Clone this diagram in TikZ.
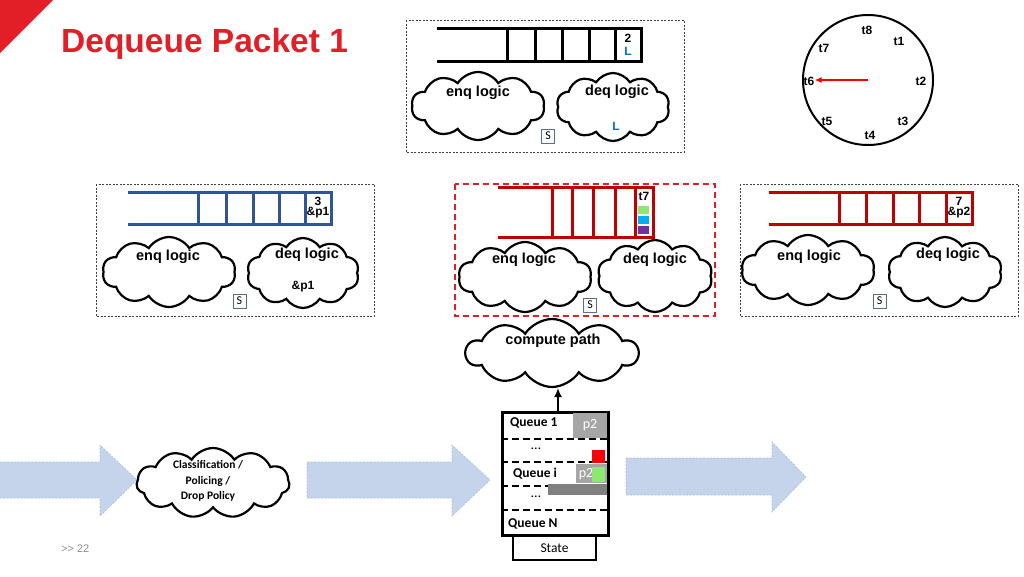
\documentclass[tikz,border=0pt]{standalone}
\usepackage{fontspec}
\setmainfont{Liberation Sans}
\newfontfamily\calib{Carlito}
\usetikzlibrary{shapes.symbols,arrows.meta}
\definecolor{titlered}{RGB}{226,30,38}
\definecolor{qblue}{RGB}{47,85,151}
\definecolor{qred}{RGB}{192,0,0}
\definecolor{lblue}{RGB}{0,112,192}
\definecolor{arrfill}{RGB}{197,212,234}
\definecolor{arrline}{RGB}{170,190,220}
\definecolor{sline}{RGB}{90,110,140}
\definecolor{pgreen}{RGB}{140,232,110}
\definecolor{pcyan}{RGB}{0,176,240}
\definecolor{ppurple}{RGB}{112,48,160}
\tikzset{
  dbox/.style={draw=black!75, line width=0.8pt, dash pattern=on 2pt off 1.5pt},
  qline/.style={line width=3pt},
  cl/.style={shape=cloud, draw, line width=2.2pt, cloud puffs=10, cloud puff arc=115, cloud ignores aspect, inner sep=0pt},
  lbl/.style={font=\bfseries\fontsize{14.5}{16}\selectfont, inner sep=0pt},
  cell/.style={font=\bfseries\fontsize{12}{13}\selectfont, inner sep=0pt},
  sbox/.style={draw=sline, line width=0.8pt, minimum width=13pt, minimum height=14pt, inner sep=0pt, font=\calib\fontsize{12}{13}\selectfont},
  clk/.style={font=\bfseries\fontsize{12}{13}\selectfont, inner sep=0pt},
  qtxt/.style={font=\calib\bfseries\fontsize{13.5}{15}\selectfont, anchor=west, inner sep=0pt},
  dots/.style={font=\calib\fontsize{14}{15}\selectfont, inner sep=0pt},
  bigarrow/.style={fill=arrfill, draw=arrline, line width=0.6pt, dash pattern=on 2pt off 1.5pt},
  sep/.style={line width=2.5pt, dash pattern=on 7pt off 4pt},
}
\begin{document}
\begin{tikzpicture}[x=1pt,y=-1pt]
\useasboundingbox (0,0) rectangle (1024,576);
% corner triangle and title
\fill[titlered] (0,0) -- (53,0) -- (0,53) -- cycle;
\node[anchor=base west, inner sep=0pt, text=titlered, font=\bfseries\fontsize{33.5}{36}\selectfont] (title) at (61,52) {Dequeue Packet 1};

% ===== top box =====
\draw[dbox] (406,20) rectangle (684,152);
\draw[qline] (437,28) -- (641,28) -- (641,61) -- (437,61);
\foreach \x in {507,535,562,589,615} \draw[qline] (\x,28) -- (\x,61);
\node[cell] (t2) at (628,38) {2};
\node[cell, text=lblue] (tL) at (628,51) {L};
\node[cl, minimum width=133pt, minimum height=68pt] (tenq) at (478,106) {};
\node[cl, minimum width=113pt, minimum height=68pt] (tdeq) at (613,107) {};
\node[lbl] (tenqt) at (478,93) {enq logic};
\node[lbl] (tdeqt) at (617,92) {deq logic};
\node[cell, text=lblue] (tdL) at (616,126) {L};
\node[sbox] (tS) at (548,136) {S};

% ===== clock =====
\node[circle, draw, line width=2pt, minimum size=130pt, inner sep=0pt] (clock) at (868,80) {};
\node[clk] (c8) at (867,30) {t8};
\node[clk] (c1) at (899,41) {t1};
\node[clk] (c2) at (921,81) {t2};
\node[clk] (c3) at (903,121) {t3};
\node[clk] (c4) at (870,135) {t4};
\node[clk] (c5) at (827,121) {t5};
\node[clk] (c6) at (809,81) {t6};
\node[clk] (c7) at (824,48) {t7};
\draw[red, line width=2pt, -{Latex[length=7pt,width=6pt]}] (clock.center) -- (c6.east |- clock.center);

% ===== left box =====
\draw[dbox] (96,184) rectangle (374,316);
\draw[qline, qblue] (128,192) -- (331,192) -- (331,224) -- (128,224);
\foreach \x in {198,226,253,279,305} \draw[qline, qblue] (\x,192) -- (\x,224);
\node[cell] (l3) at (318,201) {3};
\node[cell] (lp1) at (318,213) {\&p1};
\node[cl, minimum width=133pt, minimum height=70pt] (lenq) at (169,272) {};
\node[cl, minimum width=112pt, minimum height=70pt] (ldeq) at (303,273) {};
\node[lbl] (lenqt) at (168,257) {enq logic};
\node[lbl] (ldeqt) at (307,255) {deq logic};
\node[cell] (ldp1) at (303,287) {\&p1};
\node[sbox] (lS) at (239.5,301) {S};

% ===== middle box =====
\draw[titlered, line width=2pt, dash pattern=on 6pt off 4pt] (455,184) rectangle (715,316);
\draw[qline, qred] (498,187) -- (653,187) -- (653,237) -- (498,237);
\foreach \x in {552,572,593,615,635} \draw[qline, qred] (\x,187) -- (\x,237);
\node[cell] (mt7) at (644,196) {t7};
\fill[pgreen] (638,206) rectangle (649,214);
\fill[pcyan] (638,216) rectangle (649,224);
\fill[ppurple] (638,226) rectangle (649,234);
\node[cl, minimum width=133pt, minimum height=70pt] (menq) at (525,277) {};
\node[cl, minimum width=115pt, minimum height=72pt] (mdeq) at (655,276) {};
\node[lbl] (menqt) at (524,260) {enq logic};
\node[lbl] (mdeqt) at (655,260) {deq logic};
\node[sbox] (mS) at (590,305) {S};

% ===== right box =====
\draw[dbox] (740,184) rectangle (1018,316);
\draw[qline, qred] (769,192) -- (972,192) -- (972,224) -- (769,224);
\foreach \x in {839,866,893,919,946} \draw[qline, qred] (\x,192) -- (\x,224);
\node[cell] (r7) at (959,201) {7};
\node[cell] (rp2) at (959,213) {\&p2};
\node[cl, minimum width=133pt, minimum height=70pt] (renq) at (808,270) {};
\node[cl, minimum width=114pt, minimum height=70pt] (rdeq) at (945,272) {};
\node[lbl] (renqt) at (809,257) {enq logic};
\node[lbl] (rdeqt) at (948,255) {deq logic};
\node[sbox] (rS) at (879.5,301) {S};

% ===== compute path =====
\node[cl, minimum width=172pt, minimum height=68pt] (cp) at (552,353) {};
\node[lbl] (cpt) at (553,341) {compute path};

% ===== queue stack =====
\node[draw, line width=3pt, minimum width=106pt, minimum height=123pt, inner sep=0pt] (stack) at (555,473.5) {};
\node[draw, line width=2pt, minimum width=83pt, minimum height=24pt, inner sep=0pt, anchor=north, font=\calib\fontsize{13.5}{15}\selectfont] (state) at (554.5,535) {State};
\coordinate (cpin) at (558,388);
\draw[line width=2pt, -{Latex[length=9pt,width=8pt]}] (stack.north -| cpin) -- (cpin);
\foreach \y in {439,462,486,510} \draw[sep] (stack.west |- 0,\y) -- (stack.east |- 0,\y);
\fill[black!35] (573,413) rectangle (607,438);
\node[font=\calib\fontsize{14}{15}\selectfont, text=white, inner sep=0pt] (p2) at (590,425) {p2};
\fill[red] (592,450) rectangle (605,463);
\fill[black!35] (576,464) rectangle (607,483);
\node[font=\calib\fontsize{14}{15}\selectfont, text=white, inner sep=0pt] (pi) at (586,474) {p2};
\fill[pgreen] (592,467) rectangle (605,482);
\fill[black!50] (548,484) rectangle (607,495);
\node[qtxt] (q1) at (510,423) {Queue 1};
\node[qtxt] (qi) at (513,474) {Queue i};
\node[qtxt] (qn) at (508,524) {Queue N};
\node[dots] (d1) at (536,449) {\dots};
\node[dots] (d2) at (536,497) {\dots};

% ===== big arrows =====
\draw[bigarrow] (0,462) -- (100,462) -- (100,445) -- (137,480) -- (100,516) -- (100,498) -- (0,498);
\draw[bigarrow] (307,462) -- (452,462) -- (452,445) -- (490,480) -- (452,516) -- (452,498) -- (307,498) -- cycle;
\draw[bigarrow] (626,458) -- (772,458) -- (772,442) -- (806,477) -- (772,512) -- (772,495) -- (626,495) -- cycle;

% ===== classification =====
\node[cl, minimum width=153pt, minimum height=70pt, cloud puffs=11] (cls) at (213,483) {};
\node[align=center, font=\calib\bfseries\fontsize{11.5}{15.5}\selectfont, inner sep=0pt] (clst) at (208,481) {Classification /\\Policing /\\Drop Policy};

\node[text=black!45, font=\fontsize{11}{12}\selectfont, anchor=west, inner sep=0pt] (pg) at (61,549) {>{}> 22};
\end{tikzpicture}
\end{document}
